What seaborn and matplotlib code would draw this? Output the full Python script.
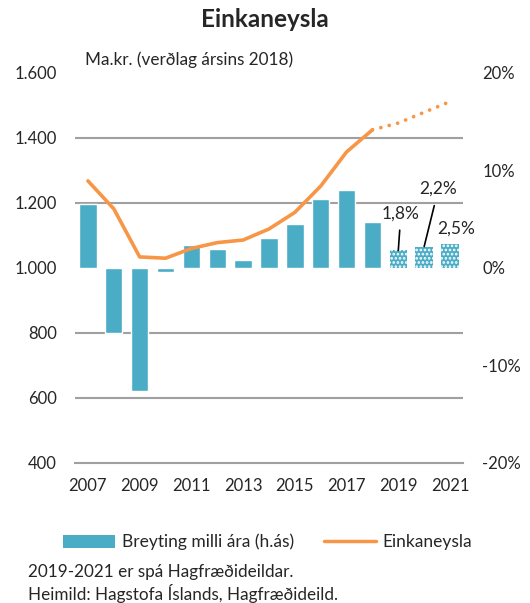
# Einkaneysla: bars (change between years, right axis) + level line (left axis)
import numpy as np
import pandas as pd
import matplotlib
matplotlib.use('Agg')
import matplotlib.pyplot as plt
import matplotlib.ticker as mticker
from matplotlib.patches import Patch
from matplotlib.lines import Line2D
import seaborn as sns

years = list(range(2007, 2022))
breyting = [6.6, -6.7, -12.6, -0.4, 2.4, 1.9, 0.8, 3.1, 4.5, 7.1, 8.0, 4.7, 1.8, 2.2, 2.5]
einkaneysla = [1268, 1182, 1034, 1030, 1060, 1078, 1086, 1120, 1171, 1252, 1357, 1425, 1446, 1479, 1512]
spa_fra = 2019  # forecast starts
labels_spa = {2019: '1,8%', 2020: '2,2%', 2021: '2,5%'}

bar_color = '#4BACC6'
line_color = '#F79646'
grid_color = '#A0A0A0'

sns.set_style('white')
plt.rcParams['font.family'] = ['Lato', 'DejaVu Sans']
plt.rcParams['hatch.linewidth'] = 1.3

df = pd.DataFrame({'ar': [str(y) for y in years], 'pos': range(len(years)),
                   'breyting': breyting, 'einkaneysla': einkaneysla})

fig = plt.figure(figsize=(5.3, 6.03), dpi=100)
ax = fig.add_axes([0.1415, 0.2322, 0.732, 0.6468])

sns.barplot(data=df, x='ar', y='breyting', color=bar_color, saturation=1,
            width=0.67, ax=ax, zorder=2)
n_spa = sum(y >= spa_fra for y in years)
for p in ax.patches[-n_spa:]:
    p.set_hatch('....')
    p.set_edgecolor('white')
    p.set_linewidth(0)

ax2 = ax.twinx()
rauntolur = df[df['ar'].astype(int) < spa_fra]
spa = df[df['ar'].astype(int) >= spa_fra - 1]
sns.lineplot(data=rauntolur, x='pos', y='einkaneysla', color=line_color,
             linewidth=2.6, ax=ax2)
sns.lineplot(data=spa, x='pos', y='einkaneysla', color=line_color,
             linewidth=2.7, ax=ax2, linestyle=(0, (0.01, 2.3)),
             dash_capstyle='round')

ax.set_xlim(-0.5, len(years) - 0.5)
ax.set_ylim(-20, 20)
ax2.set_ylim(400, 1600)

# axis sides: percentages on the right, ma.kr. on the left
ax.yaxis.tick_right()
ax2.yaxis.tick_left()
ax.set_yticks([-20, -10, 0, 10, 20])
ax.yaxis.set_major_formatter(mticker.FuncFormatter(lambda v, _: f'{v:.0f}%'))
left_ticks = list(range(400, 1601, 200))
ax2.set_yticks(left_ticks)
ax2.yaxis.set_major_formatter(mticker.FuncFormatter(lambda v, _: f'{v:,.0f}'.replace(',', '.')))

# gridlines at left axis ticks, drawn behind the bars
lo, hi = ax2.get_ylim()
ax.yaxis.set_minor_locator(mticker.FixedLocator(
    [-20 + 40 * (v - lo) / (hi - lo) for v in left_ticks]))
ax.grid(True, which='minor', axis='y', color=grid_color, linewidth=1.5, zorder=0)
ax.set_axisbelow(True)
ax.tick_params(axis='y', which='both', length=0, labelsize=12, pad=14)
ax2.tick_params(axis='y', length=0, labelsize=12, pad=13)

ax.set_xticks(range(0, len(years), 2))
ax.set_xticklabels([str(y) for y in years[::2]])
ax.xaxis.set_minor_locator(mticker.FixedLocator(np.arange(-0.5, len(years) - 1, 2)))
ax.tick_params(axis='x', which='major', length=0, labelsize=12, pad=11)
ax.tick_params(axis='x', which='minor', length=4, width=1.2, color=grid_color)

for a in (ax, ax2):
    for s in a.spines.values():
        s.set_visible(False)
    a.set_xlabel('')
    a.set_ylabel('')
ax.spines['bottom'].set_visible(True)
ax.spines['bottom'].set_color(grid_color)
ax.spines['bottom'].set_linewidth(1.5)

# forecast labels
ax.annotate(labels_spa[2019], xy=(12, breyting[12]), xytext=(12.1, 5.6),
            ha='center', va='center', fontsize=12.5,
            arrowprops=dict(arrowstyle='-', color='black', lw=1.2, shrinkA=4, shrinkB=0))
ax.annotate(labels_spa[2020], xy=(13, breyting[13]), xytext=(13.55, 8.1),
            ha='center', va='center', fontsize=12.5,
            arrowprops=dict(arrowstyle='-', color='black', lw=1.2, shrinkA=4, shrinkB=0))
ax.text(14.23, 4.0, labels_spa[2021], ha='center', va='center', fontsize=12.5)

fig.text(0.5, 0.968, 'Einkaneysla', ha='center', va='center', fontsize=17.5, fontweight='bold')
fig.text(0.16, 0.901, 'Ma.kr. (verðlag ársins 2018)', ha='left', va='center', fontsize=12.3)

handles = [Patch(facecolor=bar_color, edgecolor='none'),
           Line2D([0], [0], color=line_color, linewidth=2.5)]
fig.legend(handles, ['Breyting milli ára (h.ás)', 'Einkaneysla'], ncol=2,
           loc='center', bbox_to_anchor=(0.505, 0.101), frameon=False,
           fontsize=12.5, handlelength=3.0, handleheight=0.8, handletextpad=0.4,
           columnspacing=1.7)

fig.text(0.053, 0.051, '2019-2021 er spá Hagfræðideildar.', ha='left', va='center', fontsize=12.3)
fig.text(0.053, 0.015, 'Heimild: Hagstofa Íslands, Hagfræðideild.', ha='left', va='center', fontsize=12.3)

fig.savefig('out.png', dpi=100)
